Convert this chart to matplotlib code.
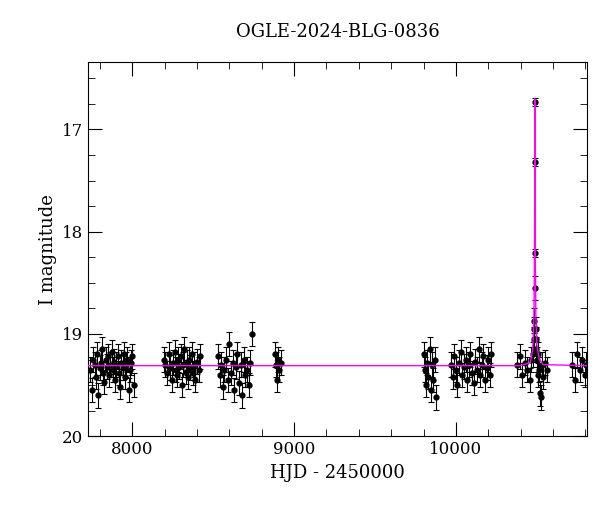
import numpy as np
import matplotlib.pyplot as plt
from matplotlib.ticker import MultipleLocator

# observations, HJD - 2450000
hjd_s1 = [7740, 7752, 7760, 7768, 7775, 7782, 7790, 7798, 7805, 7812, 7820, 7828, 7835, 7842, 7850,
          7858, 7865, 7872, 7880, 7888, 7895, 7902, 7910, 7918, 7925, 7932, 7940, 7948, 7955, 7962,
          7970, 7978, 7985, 7992, 8000, 8010]
mag_s1 = [19.35, 19.55, 19.25, 19.30, 19.42, 19.20, 19.60, 19.33, 19.28, 19.15, 19.38, 19.47, 19.25, 19.32,
          19.22, 19.40, 19.30, 19.18, 19.35, 19.27, 19.45, 19.30, 19.22, 19.38, 19.52, 19.28, 19.33, 19.20,
          19.42, 19.30, 19.25, 19.55, 19.35, 19.28, 19.22, 19.50]
hjd_s2 = [8195, 8205, 8215, 8225, 8235, 8245, 8255, 8262, 8270, 8278, 8285, 8292, 8300, 8308, 8315,
          8322, 8330, 8338, 8345, 8352, 8360, 8368, 8375, 8382, 8390, 8400, 8410, 8420]
mag_s2 = [19.25, 19.30, 19.38, 19.20, 19.33, 19.45, 19.28, 19.18, 19.35, 19.40, 19.25, 19.32, 19.22, 19.50,
          19.30, 19.15, 19.37, 19.28, 19.42, 19.25, 19.33, 19.20, 19.38, 19.30, 19.45, 19.27, 19.35, 19.22]
hjd_s3 = [8530, 8540, 8550, 8560, 8570, 8580, 8590, 8600, 8610, 8620, 8630, 8640, 8650, 8660, 8670,
          8680, 8690, 8700, 8710, 8720, 8730, 8740]
mag_s3 = [19.22, 19.40, 19.30, 19.52, 19.35, 19.25, 19.45, 19.10, 19.38, 19.28, 19.55, 19.32, 19.20, 19.48,
          19.30, 19.60, 19.25, 19.40, 19.35, 19.50, 19.28, 19.00]
hjd_s4 = [8880, 8888, 8895, 8902, 8910, 8918]
mag_s4 = [19.20, 19.30, 19.45, 19.25, 19.35, 19.28]
hjd_s5 = [9800, 9808, 9815, 9822, 9830, 9838, 9845, 9852, 9860, 9868, 9875]
mag_s5 = [19.20, 19.35, 19.50, 19.28, 19.42, 19.15, 19.55, 19.30, 19.45, 19.25, 19.62]
hjd_s6 = [9970, 9980, 9990, 10000, 10010, 10020, 10030, 10040, 10050, 10060, 10070, 10080, 10090, 10100,
          10110, 10120, 10130, 10140, 10150, 10160, 10170, 10180, 10190, 10200, 10210, 10220]
mag_s6 = [19.30, 19.42, 19.22, 19.35, 19.50, 19.28, 19.18, 19.40, 19.32, 19.25, 19.45, 19.30, 19.20, 19.38,
          19.48, 19.27, 19.35, 19.15, 19.40, 19.30, 19.22, 19.45, 19.33, 19.25, 19.40, 19.20]
hjd_s7 = [10380, 10395, 10410, 10425, 10440, 10455, 10465, 10475, 10480, 10484, 10485, 10487, 10488,
          10489, 10491, 10493, 10495, 10498, 10502, 10506, 10510, 10515, 10520, 10525, 10530, 10540,
          10550, 10560]
mag_s7 = [19.30, 19.22, 19.40, 19.28, 19.35, 19.45, 19.25, 19.20, 19.05, 18.95, 18.87, 18.21, 16.73,
          17.32, 18.55, 18.95, 19.05, 19.15, 19.25, 19.40, 19.20, 19.35, 19.58, 19.62, 19.30, 19.42,
          19.28, 19.35]
hjd_s8 = [10720, 10735, 10750, 10765, 10780, 10795, 10805]
mag_s8 = [19.30, 19.45, 19.20, 19.35, 19.25, 19.40, 19.30]
err_base = 0.12

# fitted model
model_hjd = [7728, 10400, 10460, 10475, 10482, 10485, 10487, 10488, 10489, 10491, 10494, 10500, 10515, 10540, 10809]
model_mag = [19.31, 19.31, 19.28, 19.15, 18.85, 18.45, 17.70, 16.70, 17.50, 18.30, 18.80, 19.10, 19.25, 19.30, 19.31]

plt.rcParams['font.family'] = 'DejaVu Serif'
fig, ax = plt.subplots(figsize=(6, 5.12), dpi=100)
fig.subplots_adjust(left=0.147, right=0.978, top=0.879, bottom=0.148)

hjd = hjd_s1 + hjd_s2 + hjd_s3 + hjd_s4 + hjd_s5 + hjd_s6 + hjd_s7 + hjd_s8
mag = mag_s1 + mag_s2 + mag_s3 + mag_s4 + mag_s5 + mag_s6 + mag_s7 + mag_s8
err = [err_base if m > 18.5 else 0.04 for m in mag]
ax.errorbar(hjd, mag, yerr=err, fmt='o', color='black', ms=3.5, elinewidth=0.8,
            capsize=2, capthick=0.8, zorder=2)
ax.plot(model_hjd, model_mag, color='magenta', lw=1, zorder=3)

ax.set_xlim(7728, 10809)
ax.set_ylim(20, 16.34)
ax.xaxis.set_major_locator(MultipleLocator(1000))
ax.xaxis.set_minor_locator(MultipleLocator(200))
ax.yaxis.set_major_locator(MultipleLocator(1))
ax.yaxis.set_minor_locator(MultipleLocator(0.25))
ax.tick_params(which='both', direction='in', top=True, right=True, labelsize=12)
ax.tick_params(which='major', length=10)
ax.tick_params(which='minor', length=5)
ax.set_xlabel('HJD - 2450000', fontsize=13)
ax.set_ylabel('I magnitude', fontsize=13)
ax.set_title('OGLE-2024-BLG-0836', fontsize=13, pad=18)
fig.savefig('out.png')
